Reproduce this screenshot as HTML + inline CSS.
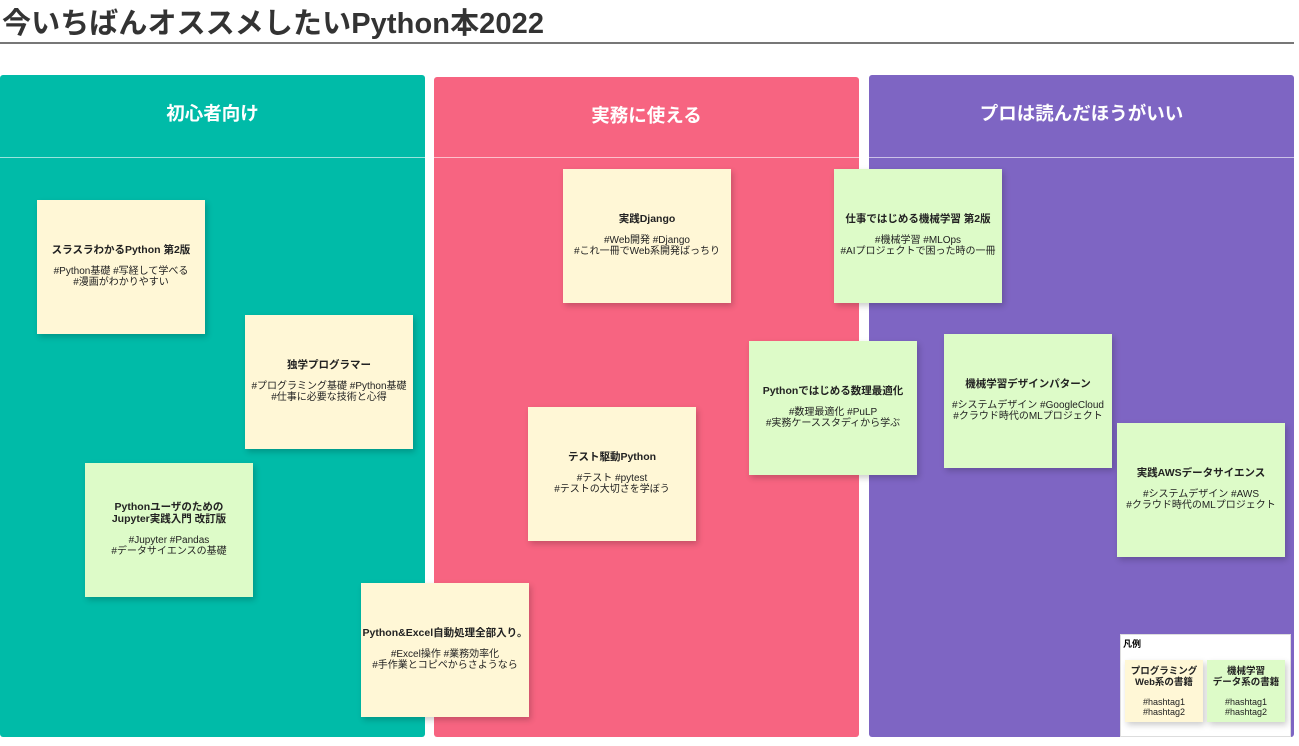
<!DOCTYPE html>
<html><head><meta charset="utf-8"><style>
body{margin:0;width:1299px;height:746px;background:#fff;position:relative;overflow:hidden;font-family:"Liberation Sans","Noto Sans CJK JP",sans-serif;}
.title{position:absolute;left:2px;top:0px;font-size:29px;font-weight:bold;color:#333;letter-spacing:0.1px}
.hr{position:absolute;left:0;top:42px;width:1294px;height:2px;background:#777}
.col{position:absolute;top:75px;height:662px;width:425px;border-radius:3px}
.col .h{position:absolute;left:0;right:0;top:0;height:82px;border-bottom:1px solid rgba(255,255,255,.6);color:#fff;font-weight:bold;font-size:18.5px}
.col .h span{position:absolute;left:0;right:0;top:25px;text-align:center}
.n{position:absolute;width:168px;height:134px;box-shadow:2px 3px 6px rgba(0,0,0,.2);display:flex;flex-direction:column;justify-content:center;align-items:center;text-align:center;color:#222;font-size:10px;line-height:11px;padding-bottom:2px;box-sizing:border-box}
.n b{font-size:10.5px;margin-bottom:10px;line-height:12px}
.y{background:#FFF7D6}.g{background:#DDFBC8}
</style></head><body>
<div class="title">今いちばんオススメしたいPython本2022</div>
<div class="hr"></div>
<div class="col" style="left:0;background:#00BBA8"><div class="h"><span>初心者向け</span></div></div>
<div class="col" style="left:434px;top:77px;height:660px;background:#F76481"><div class="h" style="height:80px"><span>実務に使える</span></div></div>
<div class="col" style="left:869px;background:#7E65C3"><div class="h"><span>プロは読んだほうがいい</span></div></div>

<div class="n y" style="left:37px;top:200px"><b>スラスラわかるPython 第2版</b>#Python基礎 #写経して学べる<br>#漫画がわかりやすい</div>
<div class="n y" style="left:245px;top:315px"><b>独学プログラマー</b>#プログラミング基礎 #Python基礎<br>#仕事に必要な技術と心得</div>
<div class="n g" style="left:85px;top:463px"><b>Pythonユーザのための<br>Jupyter実践入門 改訂版</b>#Jupyter #Pandas<br>#データサイエンスの基礎</div>
<div class="n y" style="left:361px;top:583px"><b>Python&amp;Excel自動処理全部入り。</b>#Excel操作 #業務効率化<br>#手作業とコピペからさようなら</div>
<div class="n y" style="left:563px;top:169px"><b>実践Django</b>#Web開発 #Django<br>#これ一冊でWeb系開発ばっちり</div>
<div class="n y" style="left:528px;top:407px"><b>テスト駆動Python</b>#テスト #pytest<br>#テストの大切さを学ぼう</div>
<div class="n g" style="left:834px;top:169px"><b>仕事ではじめる機械学習 第2版</b>#機械学習 #MLOps<br>#AIプロジェクトで困った時の一冊</div>
<div class="n g" style="left:749px;top:341px"><b>Pythonではじめる数理最適化</b>#数理最適化 #PuLP<br>#実務ケーススタディから学ぶ</div>
<div class="n g" style="left:944px;top:334px"><b>機械学習デザインパターン</b>#システムデザイン #GoogleCloud<br>#クラウド時代のMLプロジェクト</div>
<div class="n g" style="left:1117px;top:423px"><b>実践AWSデータサイエンス</b>#システムデザイン #AWS<br>#クラウド時代のMLプロジェクト</div>

<div style="position:absolute;left:1120px;top:634px;width:169px;height:101px;background:#fff;border:1px solid #ddd">
<div style="position:absolute;left:2px;top:2px;font-size:9px;font-weight:bold">凡例</div>
</div>
<div class="n y" style="left:1125px;top:660px;width:78px;height:62px;padding:0;font-size:9px;line-height:10px"><b style="font-size:9.5px;margin-bottom:9px;line-height:11px">プログラミング<br>Web系の書籍</b>#hashtag1<br>#hashtag2</div>
<div class="n g" style="left:1207px;top:660px;width:78px;height:62px;padding:0;font-size:9px;line-height:10px"><b style="font-size:9.5px;margin-bottom:9px;line-height:11px">機械学習<br>データ系の書籍</b>#hashtag1<br>#hashtag2</div>
</body></html>
